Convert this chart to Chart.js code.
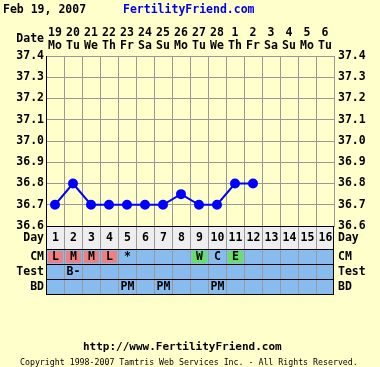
<!DOCTYPE html>
<html>
<head>
<meta charset="utf-8">
<script src="https://cdn.jsdelivr.net/npm/chart.js@4"></script>
<style>
html, body { margin: 0; padding: 0; background: #ffffcc; }
canvas { display: block; }
</style>
</head>
<body>
<canvas id="chart" width="380" height="367"></canvas>
<script>
// chart data
const cycleDays = ['1','2','3','4','5','6','7','8','9','10','11','12','13','14','15','16'];
const dates = ['19','20','21','22','23','24','25','26','27','28','1','2','3','4','5','6'];
const weekdays = ['Mo','Tu','We','Th','Fr','Sa','Su','Mo','Tu','We','Th','Fr','Sa','Su','Mo','Tu'];
const temps = [36.7, 36.8, 36.7, 36.7, 36.7, 36.7, 36.7, 36.75, 36.7, 36.7, 36.8, 36.8, null, null, null, null];
const cmValues = ['L','M','M','L','*','','','','W','C','E','','','','',''];
const testValues = ['','B-','','','','','','','','','','','','','',''];
const bdValues = ['','','','','PM','','PM','','','PM','','','','','',''];
const tempMin = 36.6;
const tempMax = 37.4;
const chartDate = 'Feb 19, 2007';
const siteName = 'FertilityFriend.com';
const siteUrl = 'http://www.FertilityFriend.com';
const copyright = 'Copyright 1998-2007 Tamtris Web Services Inc. - All Rights Reserved.';

const FONT = '"DejaVu Sans Mono", monospace';
const cmColors = { L: '#f08080', M: '#f08080', W: '#66e066', E: '#66e066' };

// draws header, table rows under the chart and footer
const extras = {
    id: 'extras',
    afterDraw(chart) {
        const ctx = chart.ctx;
        const xs = chart.scales.x;
        const area = chart.chartArea;
        const colW = (area.right - area.left) / cycleDays.length;
        ctx.save();

        // header
        ctx.font = 'bold 11.5px ' + FONT;
        ctx.textBaseline = 'middle';
        ctx.textAlign = 'left';
        ctx.fillStyle = '#000';
        ctx.fillText(chartDate, 3, 10);
        ctx.fillStyle = '#0000ee';
        ctx.fillText(siteName, 123, 10);
        ctx.fillStyle = '#000';
        ctx.textAlign = 'right';
        ctx.fillText('Date', 44, 39);

        // table rows
        const rows = [
            { label: 'Day', top: area.bottom, bottom: area.bottom + 23, bg: '#eeeeee', vals: cycleDays },
            { label: 'CM', top: area.bottom + 23, bottom: area.bottom + 38, bg: '#88bbee', vals: cmValues, colors: cmColors },
            { label: 'Test', top: area.bottom + 38, bottom: area.bottom + 53, bg: '#88bbee', vals: testValues },
            { label: 'BD', top: area.bottom + 53, bottom: area.bottom + 68, bg: '#88bbee', vals: bdValues }
        ];
        rows.forEach(r => {
            ctx.fillStyle = r.bg;
            ctx.fillRect(area.left, r.top, area.right - area.left, r.bottom - r.top);
            r.vals.forEach((v, i) => {
                const cx = xs.getPixelForValue(i);
                if (r.colors && r.colors[v]) {
                    ctx.fillStyle = r.colors[v];
                    ctx.fillRect(cx - colW / 2 + 2, r.top + 2, colW - 3, r.bottom - r.top - 3);
                }
            });
            // vertical lines
            ctx.strokeStyle = '#999';
            ctx.lineWidth = 1;
            for (let i = 1; i < r.vals.length; i++) {
                const x = Math.round(area.left + i * colW) + 0.5;
                ctx.beginPath();
                ctx.moveTo(x, r.top);
                ctx.lineTo(x, r.bottom);
                ctx.stroke();
            }
            ctx.fillStyle = '#000';
            ctx.textAlign = 'center';
            const cy = (r.top + r.bottom) / 2 + 1;
            r.vals.forEach((v, i) => {
                if (v) ctx.fillText(v, xs.getPixelForValue(i) + 0.5, cy);
            });
            ctx.textAlign = 'right';
            ctx.fillText(r.label, area.left - 2, cy);
            ctx.textAlign = 'left';
            ctx.fillText(r.label, area.right + 4, cy);
        });
        // row borders
        ctx.strokeStyle = '#000';
        rows.forEach(r => {
            ctx.beginPath();
            ctx.moveTo(area.left, Math.round(r.top) + 0.5);
            ctx.lineTo(area.right, Math.round(r.top) + 0.5);
            ctx.stroke();
        });
        const last = rows[rows.length - 1].bottom;
        ctx.beginPath();
        ctx.moveTo(area.left, last + 0.5);
        ctx.lineTo(area.right, last + 0.5);
        ctx.moveTo(area.left + 0.5, area.bottom);
        ctx.lineTo(area.left + 0.5, last);
        ctx.moveTo(area.right - 0.5, area.bottom);
        ctx.lineTo(area.right - 0.5, last);
        ctx.stroke();

        // footer
        ctx.fillStyle = '#000';
        ctx.textAlign = 'left';
        ctx.font = 'bold 11px ' + FONT;
        ctx.fillText(siteUrl, 83, 347);
        ctx.font = '8.25px ' + FONT;
        ctx.fillText(copyright, 20, 363);
        ctx.restore();
    }
};

const tickFont = { family: FONT, size: 11.5, weight: 'bold' };

new Chart(document.getElementById('chart'), {
    type: 'line',
    data: {
        labels: cycleDays,
        datasets: [{
            data: temps,
            borderColor: '#0000ff',
            backgroundColor: '#0000ff',
            borderWidth: 2,
            pointRadius: 4,
            pointHoverRadius: 4,
            tension: 0,
            spanGaps: false,
            xAxisID: 'x',
            yAxisID: 'y'
        }]
    },
    options: {
        responsive: false,
        animation: false,
        devicePixelRatio: 1,
        layout: { padding: { top: 0, bottom: 141, left: 0, right: 0 } },
        plugins: { legend: { display: false }, tooltip: { enabled: false } },
        scales: {
            x: {
                display: false,
                offset: true,
                grid: { offset: true }
            },
            x2: {
                type: 'category',
                position: 'top',
                labels: dates.map((d, i) => [d, weekdays[i]]),
                offset: true,
                grid: { offset: true, color: '#999', drawTicks: false },
                border: { color: '#999' },
                ticks: { font: { ...tickFont, lineHeight: 1.13 }, color: '#000', padding: 3, maxRotation: 0, autoSkip: false },
                afterFit: s => { s.height = 56; }
            },
            y: {
                position: 'left',
                min: tempMin,
                max: tempMax,
                grid: { color: '#999', drawTicks: false },
                border: { color: '#000' },
                ticks: { stepSize: 0.1, font: tickFont, color: '#000', padding: 2, callback: v => v.toFixed(1) },
                afterFit: s => { s.width = 46; }
            },
            y2: {
                position: 'right',
                min: tempMin,
                max: tempMax,
                grid: { display: false, drawTicks: false },
                border: { color: '#999' },
                ticks: { stepSize: 0.1, font: tickFont, color: '#000', padding: 4, callback: v => v.toFixed(1) },
                afterFit: s => { s.width = 46; }
            }
        }
    },
    plugins: [extras]
});
</script>
</body>
</html>
